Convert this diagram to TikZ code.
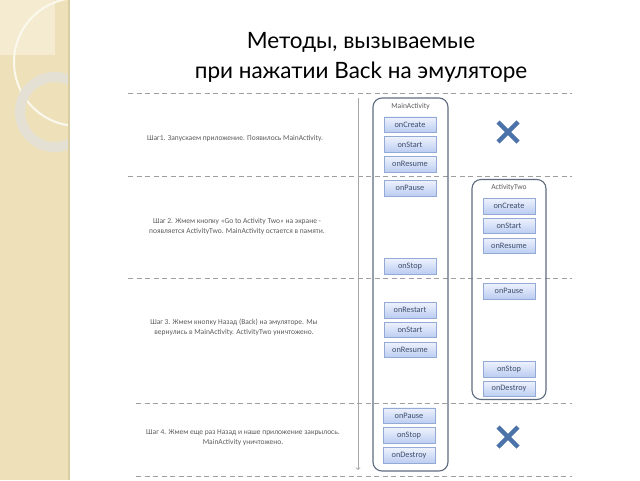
\documentclass[tikz,border=0pt]{standalone}
\usepackage{fontspec}
\setmainfont{Carlito}
\newfontfamily\titlefont{Lato}
\usetikzlibrary{positioning, arrows}
\definecolor{panel}{HTML}{EEE1BA}
\definecolor{panellight}{HTML}{F4EBD0}
\definecolor{paneledge}{HTML}{D9CDA6}
\definecolor{ringcol}{HTML}{E4E0D4}
\definecolor{boxedge}{HTML}{5E6B7E}
\definecolor{methodedge}{HTML}{93A9D6}
\definecolor{methodtop}{HTML}{EEF2FC}
\definecolor{methodbot}{HTML}{BCCDF2}
\definecolor{methodtext}{HTML}{3F4F6E}
\definecolor{steptext}{HTML}{5A5A5A}
\definecolor{crossblue}{HTML}{4B73AA}
\tikzset{
    x=1pt, y=-1pt, % pixel units, y runs downwards
    method/.style={draw=methodedge, top color=methodtop, bottom color=methodbot,
        minimum width=52pt, minimum height=15.5pt, inner sep=0pt,
        font=\fontsize{8.3}{9}\selectfont, text=methodtext}, % one callback button
    activity/.style={draw=boxedge, line width=1.1pt, rounded corners=9pt}, % activity frame
    stepnote/.style={align=center, text=steptext, font=\fontsize{7.5}{10}\selectfont}, % step description
    sep/.style={draw=gray!75, line width=1pt, dash pattern=on 5pt off 3.5pt}, % dashed separators
    node distance=4pt, % gap between buttons
}

\begin{document}
\begin{tikzpicture}
    \useasboundingbox (0,0) rectangle (640,480);
    % left decorative panel
    \fill[panel] (0,0) rectangle (70,480);
    \begin{scope}
        \clip (0,0) rectangle (68,480);
        \fill[panellight] (0,0) rectangle (55,55);
        \draw[white!75!panel, line width=2pt] (78,62) circle (64);
        \draw[ringcol, line width=10pt] (55,112) circle (35);
    \end{scope}
    \fill[paneledge] (68,0) rectangle (70,480);

    % title
    \node[font=\titlefont\fontsize{22.5}{30}\selectfont, align=center] (title) at (361,57)
        {Методы, вызываемые\\при нажатии Back на эмуляторе};

    % separators
    \draw[sep] (128,93) -- (572,93);
    \draw[sep] (128,176) -- (572,176);
    \draw[sep] (128,278) -- (572,278);
    \draw[sep] (136,403) -- (572,403);
    \draw[sep] (136,476) -- (572,476);

    % time line
    \coordinate (t0) at (358,98);
    \coordinate (t1) at (358,470);
    \draw[gray!70, line width=0.8pt, -to] (t0) -- (t1);

    % steps
    \node[stepnote] (s1) at (235,139) {Шаг1. Запускаем приложение. Появилось MainActivity.};
    \node[stepnote] (s2) at (237,227) {Шаг 2. Жмем кнопку «Go to Activity Two» на экране -\\появляется ActivityTwo. MainActivity  остается в памяти.};
    \node[stepnote] (s3) at (234,327) {Шаг 3. Жмем кнопку Назад (Back) на эмуляторе.  Мы\\вернулись в MainActivity.  ActivityTwo уничтожено.};
    \node[stepnote] (s4) at (243,438) {Шаг 4. Жмем еще раз Назад и наше приложение закрылось.\\MainActivity  уничтожено.};

    % MainActivity
    \node[activity, minimum width=75pt, minimum height=373pt] (main) at (410.5,284.5) {};
    \node[stepnote, below=2pt of main.north] (mainlbl) {MainActivity};
    \node[method] (m1) at (410,124.5) {onCreate};
    \node[method, below=of m1] (m2) {onStart};
    \node[method, below=of m2] (m3) {onResume};
    \node[method] (m4) at (410,188) {onPause};
    \node[method] (m5) at (410,266) {onStop};
    \node[method] (m6) at (410,310) {onRestart};
    \node[method, below=of m6] (m7) {onStart};
    \node[method, below=of m7] (m8) {onResume};
    \node[method] (m9) at (409,415.5) {onPause};
    \node[method, below=of m9] (m10) {onStop};
    \node[method, below=of m10] (m11) {onDestroy};

    % ActivityTwo
    \node[activity, minimum width=74pt, minimum height=220pt] (two) at (509,289.5) {};
    \node[stepnote, below=2pt of two.north] (twolbl) {ActivityTwo};
    \node[method] (a1) at (509,206) {onCreate};
    \node[method, below=of a1] (a2) {onStart};
    \node[method, below=of a2] (a3) {onResume};
    \node[method] (a4) at (509,291) {onPause};
    \node[method] (a5) at (509,369) {onStop};
    \node[method, below=of a5] (a6) {onDestroy};

    % not alive
    \foreach \y [count=\i] in {132,437} {
        \coordinate (x\i) at (508,\y);
        \draw[crossblue, line width=4.5pt] ([shift={(-10,-10)}]x\i) -- ([shift={(10,10)}]x\i)
            ([shift={(-10,10)}]x\i) -- ([shift={(10,-10)}]x\i);
    }
\end{tikzpicture}
\end{document}
